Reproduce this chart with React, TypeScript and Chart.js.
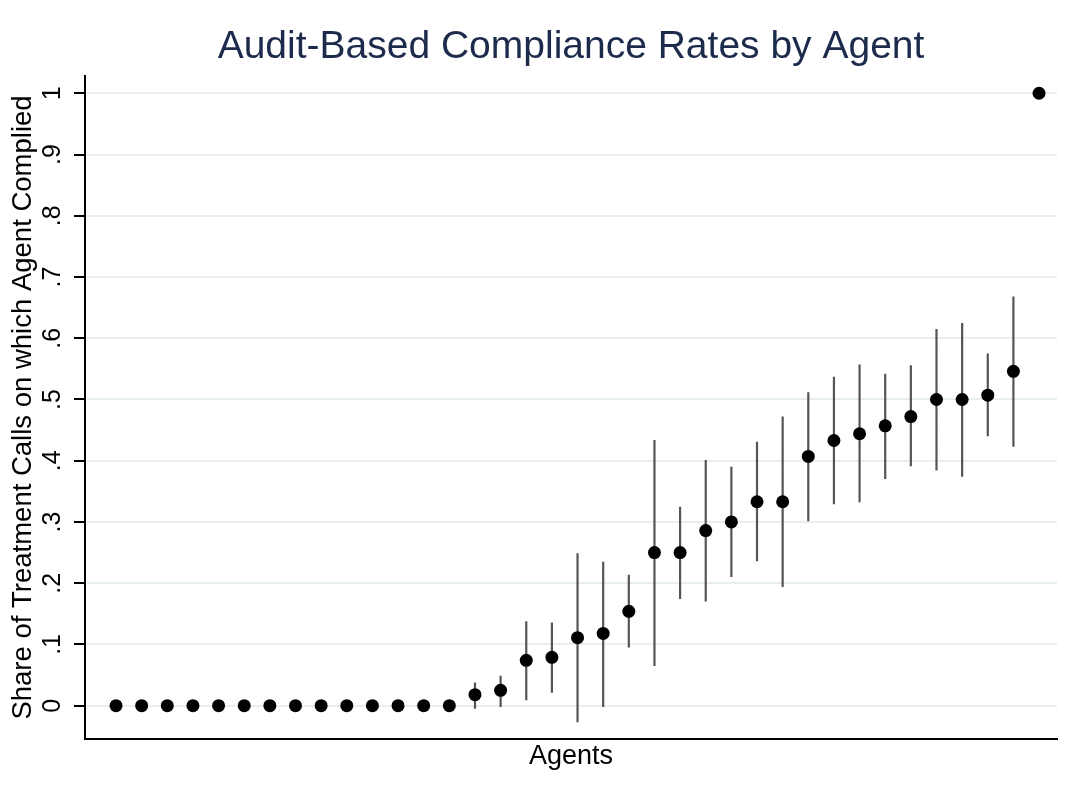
import React, { useEffect, useRef } from "react";
import { Chart, registerables } from "chart.js";

Chart.register(...registerables);

// Agents ranked by compliance share
const agents = [
  1, 2, 3, 4, 5, 6, 7, 8, 9, 10, 11, 12, 13, 14, 15, 16, 17, 18, 19, 20,
  21, 22, 23, 24, 25, 26, 27, 28, 29, 30, 31, 32, 33, 34, 35, 36, 37,
];

// Share of treatment calls on which agent complied
const compliance = [
  0, 0, 0, 0, 0, 0, 0, 0, 0, 0, 0, 0, 0, 0,
  0.018, 0.025, 0.074, 0.079, 0.111, 0.118, 0.154, 0.25, 0.25, 0.286,
  0.3, 0.333, 0.333, 0.407, 0.433, 0.444, 0.457, 0.472, 0.5, 0.5,
  0.507, 0.546, 1.0,
];

// Confidence interval bounds (null = no interval drawn)
const ciLow = [
  null, null, null, null, null, null, null, null, null, null, null, null, null, null,
  -0.005, -0.002, 0.009, 0.021, -0.027, -0.002, 0.095, 0.065, 0.174, 0.17,
  0.21, 0.236, 0.194, 0.301, 0.329, 0.332, 0.37, 0.391, 0.384, 0.374,
  0.44, 0.423, null,
];
const ciHigh = [
  null, null, null, null, null, null, null, null, null, null, null, null, null, null,
  0.038, 0.049, 0.138, 0.136, 0.249, 0.235, 0.214, 0.434, 0.325, 0.401,
  0.39, 0.431, 0.472, 0.512, 0.537, 0.557, 0.542, 0.556, 0.615, 0.625,
  0.575, 0.668, null,
];

const yTickValues = [0, 0.1, 0.2, 0.3, 0.4, 0.5, 0.6, 0.7, 0.8, 0.9, 1];
const yTickLabels = ["0", ".1", ".2", ".3", ".4", ".5", ".6", ".7", ".8", ".9", "1"];

const FONT = "'Liberation Sans', Arial, Helvetica, sans-serif";

export default function App() {
  const ref = useRef<HTMLCanvasElement | null>(null);

  useEffect(() => {
    document.body.style.margin = "0";
    const canvas = ref.current;
    if (!canvas) return;

    const points = agents.map((a, i) => ({ x: a, y: compliance[i] }));
    const bars: { x: number; y: number | null }[] = [];
    agents.forEach((a, i) => {
      const lo = ciLow[i];
      const hi = ciHigh[i];
      if (lo !== null && hi !== null) {
        bars.push({ x: a, y: lo }, { x: a, y: hi }, { x: a, y: null });
      }
    });

    Chart.defaults.font.family = FONT;

    const chart = new Chart(canvas, {
      type: "scatter",
      data: {
        datasets: [
          {
            label: "Compliance rate",
            data: points,
            pointRadius: 6.5,
            pointHoverRadius: 6.5,
            backgroundColor: "#000000",
            borderColor: "#000000",
            borderWidth: 0,
            order: 0,
          },
          {
            label: "Confidence interval",
            data: bars as any,
            showLine: true,
            spanGaps: false,
            borderColor: "#555555",
            borderWidth: 2.2,
            pointRadius: 0,
            pointHoverRadius: 0,
            order: 1,
          },
        ],
      },
      options: {
        responsive: false,
        animation: false,
        devicePixelRatio: 1,
        layout: { padding: { left: 0, right: 16, top: 0, bottom: 0 } },
        plugins: {
          legend: { display: false },
          tooltip: { enabled: false },
          title: {
            display: true,
            fullSize: false,
            text: "Audit-Based Compliance Rates by Agent",
            color: "#1c2b4c",
            font: { size: 39, weight: "normal", family: FONT },
            padding: { top: 24, bottom: 5.2 },
          },
        },
        scales: {
          x: {
            type: "linear",
            min: -0.21,
            max: 37.7,
            grid: { display: false },
            border: { display: true, color: "#000000", width: 2 },
            ticks: { display: false },
            title: {
              display: true,
              text: "Agents",
              color: "#000000",
              font: { size: 27, family: FONT },
              padding: { top: 0, bottom: 34 },
            },
            afterFit: (s: any) => {
              s.height = 68;
            },
          },
          y: {
            type: "linear",
            min: -0.0544,
            max: 1.0282,
            afterBuildTicks: (s: any) => {
              s.ticks = yTickValues.map((v) => ({ value: v }));
            },
            grid: {
              display: true,
              drawOnChartArea: true,
              drawTicks: true,
              color: "#e8eff2",
              lineWidth: 2,
              tickLength: 11,
              tickColor: "#000000",
              tickWidth: 2,
            },
            border: { display: true, color: "#000000", width: 2 },
            ticks: {
              minRotation: 90,
              maxRotation: 90,
              crossAlign: "center",
              padding: 10.6,
              color: "#000000",
              font: { size: 25, family: FONT },
              callback: (value: any) => {
                const idx = yTickValues.findIndex((t) => Math.abs(t - Number(value)) < 1e-9);
                return idx >= 0 ? yTickLabels[idx] : "";
              },
            },
            title: {
              display: true,
              text: "Share of Treatment Calls on which Agent Complied",
              color: "#000000",
              font: { size: 27.5, family: FONT },
              padding: { top: 7, bottom: 0 },
            },
            afterFit: (s: any) => {
              s.width = 85;
            },
          },
        },
      },
    });

    return () => chart.destroy();
  }, []);

  return (
    <div style={{ width: 1073, height: 807, background: "#ffffff" }}>
      <canvas ref={ref} width={1073} height={807} style={{ display: "block" }} />
    </div>
  );
}
